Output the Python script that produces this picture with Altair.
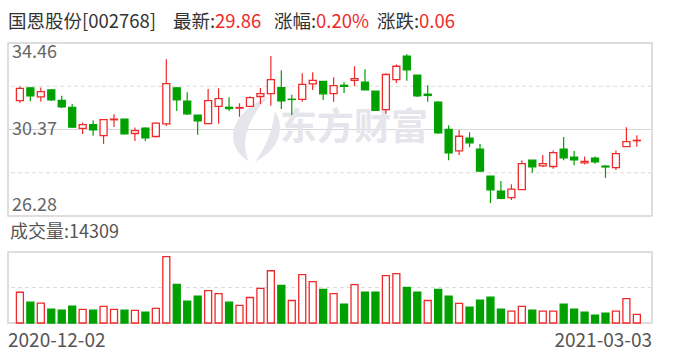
import altair as alt
import pandas as pd

# ---------------- data ----------------
dates = [
    "2020-12-02", "2020-12-03", "2020-12-04", "2020-12-07", "2020-12-08", "2020-12-09",
    "2020-12-10", "2020-12-11", "2020-12-14", "2020-12-15", "2020-12-16", "2020-12-17",
    "2020-12-18", "2020-12-21", "2020-12-22", "2020-12-23", "2020-12-24", "2020-12-25",
    "2020-12-28", "2020-12-29", "2020-12-30", "2020-12-31",
    "2021-01-04", "2021-01-05", "2021-01-06", "2021-01-07", "2021-01-08",
    "2021-01-11", "2021-01-12", "2021-01-13", "2021-01-14", "2021-01-15",
    "2021-01-18", "2021-01-19", "2021-01-20", "2021-01-21", "2021-01-22",
    "2021-01-25", "2021-01-26", "2021-01-27", "2021-01-28", "2021-01-29",
    "2021-02-01", "2021-02-02", "2021-02-03", "2021-02-04", "2021-02-05",
    "2021-02-08", "2021-02-09", "2021-02-10", "2021-02-18", "2021-02-19",
    "2021-02-22", "2021-02-23", "2021-02-24", "2021-02-25", "2021-02-26",
    "2021-03-01", "2021-03-02", "2021-03-03",
]
opens = [31.74, 32.34, 31.91, 32.24, 31.75, 31.42, 30.42, 30.60, 30.08, 30.83,
         30.86, 30.18, 30.43, 30.04, 30.64, 32.34, 31.71, 31.05, 30.65, 31.46,
         31.42, 31.38, 31.46, 31.93, 32.07, 32.35, 31.80, 31.79, 32.53, 32.65,
         32.07, 32.46, 32.69, 32.61, 32.18, 31.31, 32.73, 33.84, 32.94, 32.04,
         31.66, 30.38, 29.36, 29.96, 29.44, 28.16, 27.45, 27.15, 27.53, 28.92,
         28.65, 28.62, 29.44, 29.06, 28.79, 29.01, 28.64, 28.57, 29.56, 29.84]
highs = [32.40, 32.36, 32.35, 32.28, 31.96, 31.57, 30.70, 30.79, 30.84, 31.09,
         30.86, 30.46, 30.46, 30.70, 33.69, 32.37, 32.13, 31.05, 32.28, 32.32,
         31.90, 31.61, 31.94, 32.34, 33.84, 33.17, 32.01, 33.03, 33.08, 32.65,
         32.84, 32.61, 33.36, 33.22, 32.18, 33.03, 33.44, 33.93, 32.94, 32.46,
         31.71, 30.57, 30.35, 30.24, 29.68, 28.16, 27.93, 27.78, 28.90, 28.92,
         29.16, 29.38, 30.01, 29.35, 29.09, 29.09, 28.68, 29.38, 30.48, 30.10]
lows = [31.63, 31.71, 31.68, 31.72, 31.39, 30.45, 30.16, 30.07, 29.69, 30.49,
        30.16, 29.83, 29.83, 29.99, 30.54, 31.25, 31.05, 30.12, 30.65, 30.64,
        31.25, 30.97, 31.46, 31.57, 31.49, 31.34, 31.05, 31.68, 32.24, 31.77,
        31.68, 32.10, 32.43, 32.24, 31.25, 31.11, 32.57, 32.67, 31.91, 31.68,
        30.16, 28.92, 29.16, 29.53, 28.37, 26.89, 27.07, 27.04, 27.53, 28.32,
        28.60, 28.51, 28.92, 28.68, 28.72, 28.75, 28.08, 28.46, 29.56, 29.56]
closes = [32.31, 31.96, 32.16, 31.77, 31.44, 30.48, 30.60, 30.35, 30.84, 30.86,
          30.16, 30.32, 29.97, 30.67, 32.54, 31.77, 31.11, 30.78, 31.74, 31.83,
          31.36, 31.41, 31.88, 32.07, 32.73, 31.72, 31.79, 32.50, 32.69, 32.05,
          32.44, 32.41, 32.78, 32.24, 31.28, 32.97, 33.36, 33.19, 31.96, 31.98,
          30.21, 29.27, 30.05, 29.74, 28.40, 27.52, 27.12, 27.55, 28.76, 28.60,
          28.76, 29.28, 29.03, 28.94, 28.86, 28.84, 28.60, 29.23, 29.80, 29.86]
vols = [51000, 34500, 32900, 23000, 21400, 28000, 22500, 21400, 27500, 22500,
        21400, 20900, 18100, 24200, 110200, 64200, 36200, 44400, 53800, 48900,
        34500, 29100, 42300, 57600, 86700, 62500, 37300, 80100, 68600, 55900,
        48900, 31300, 63700, 51000, 51000, 78500, 81800, 59200, 51000, 37300,
        55900, 44400, 32400, 26300, 37800, 42800, 23000, 19700, 27500, 21400,
        19700, 19700, 31300, 23000, 18100, 13200, 16500, 19700, 40600, 14309]
price_ticks = [26.28, 30.37, 34.46]
vol_max = 117800
stock_name = "国恩股份[002768]"

# ---------------- styles ----------------
RED = "#ee2a2a"
GREEN = "#00a000"
FONT = "Noto Sans CJK SC"
W, H = 644, 280
PRICE_RANGE = [173, 0]
VOL_RANGE = [280, 209]
WM = "#e5e5eb"
LEAF = ("M 0.35 -1 C -0.95 -0.45 -1.0 0.55 -0.25 1 C -0.55 0.35 -0.25 -0.35 0.35 -1 Z "
        "M 0.55 -0.55 C 0.95 0.05 0.55 0.75 -0.05 1 C 0.3 0.5 0.5 0.0 0.55 -0.55 Z")

df = pd.DataFrame({"i": list(range(len(dates))), "date": dates, "open": opens,
                   "high": highs, "low": lows, "close": closes, "vol": vols})
df["dir"] = ["up" if c >= o else "down" for o, c in zip(opens, closes)]
prev = [opens[0]] + closes[:-1]
df["vdir"] = ["up" if c >= p else "down" for p, c in zip(prev, closes)]

xs = alt.Scale(domain=[-0.66, len(dates) - 0.03], nice=False, zero=False)
ps = alt.Scale(domain=[price_ticks[0], price_ticks[-1]], range=PRICE_RANGE, nice=False, zero=False)
vs = alt.Scale(domain=[0, vol_max], range=VOL_RANGE, nice=False, zero=True)
X = alt.X("i:Q", scale=xs, axis=None)
updown = ["up", "down"]


def stroke_enc(field):
    return alt.Stroke(f"{field}:N", scale=alt.Scale(domain=updown, range=[RED, GREEN]), legend=None)


def fill_enc(field):
    return alt.Fill(f"{field}:N", scale=alt.Scale(domain=updown, range=["#ffffff", GREEN]), legend=None)


one = pd.DataFrame({"k": [0]})


def txt(s, x, y, color, size, align="left", baseline="middle", weight="normal"):
    return alt.Chart(one).mark_text(text=s, align=align, baseline=baseline, font=FONT,
                                    fontSize=size, color=color, fontWeight=weight).encode(
        x=alt.value(x), y=alt.value(y))


# ---------------- price panel ----------------
mids = pd.DataFrame({"p": [(price_ticks[0] + price_ticks[1]) / 2, (price_ticks[1] + price_ticks[2]) / 2]})
dash_grid = alt.Chart(mids).mark_rule(color="#dcdcdc", strokeDash=[4, 3], strokeWidth=1).encode(
    y=alt.Y("p:Q", scale=ps, axis=None))
mid_line = alt.Chart(pd.DataFrame({"p": [price_ticks[1]]})).mark_rule(color="#d6d6d6", strokeWidth=1.2).encode(
    y=alt.Y("p:Q", scale=ps, axis=None))
price_box = alt.Chart(pd.DataFrame({"a": [price_ticks[0]], "b": [price_ticks[-1]]})).mark_rect(
    fill="transparent", stroke="#d4d4d4", strokeWidth=1.5).encode(
    x=alt.value(0), x2=alt.value(W), y=alt.Y("a:Q", scale=ps, axis=None), y2="b:Q")

watermark = txt("东方财富", 346, 86, WM, 37, align="center", weight="bold")
logo = alt.Chart(one).mark_point(shape=LEAF, filled=True, fill=WM, stroke=None, opacity=1,
                                 size=4200).encode(x=alt.value(249), y=alt.value(86))

wicks = alt.Chart(df).mark_rule(strokeWidth=1.2).encode(
    x=X, y=alt.Y("low:Q", scale=ps, axis=None), y2="high:Q", stroke=stroke_enc("dir"))
bodies = alt.Chart(df).mark_bar(size=7, strokeWidth=1.3).encode(
    x=X, y=alt.Y("open:Q", scale=ps, axis=None), y2="close:Q",
    fill=fill_enc("dir"), stroke=stroke_enc("dir"))

lab_df = pd.DataFrame({"p": price_ticks})
lab_common = dict(align="left", font=FONT, fontSize=18, color="#666666")
lab_top = alt.Chart(lab_df).transform_filter(f"datum.p == {price_ticks[2]}").mark_text(
    baseline="top", dy=1, **lab_common).encode(
    x=alt.value(4), y=alt.Y("p:Q", scale=ps, axis=None), text=alt.Text("p:Q", format=".2f"))
lab_mid = alt.Chart(lab_df).transform_filter(f"datum.p == {price_ticks[1]}").mark_text(
    baseline="middle", **lab_common).encode(
    x=alt.value(4), y=alt.Y("p:Q", scale=ps, axis=None), text=alt.Text("p:Q", format=".2f"))
lab_bot = alt.Chart(lab_df).transform_filter(f"datum.p == {price_ticks[0]}").mark_text(
    baseline="bottom", dy=-1, **lab_common).encode(
    x=alt.value(4), y=alt.Y("p:Q", scale=ps, axis=None), text=alt.Text("p:Q", format=".2f"))

price = alt.layer(price_box, dash_grid, mid_line, logo, watermark, wicks, bodies, lab_top, lab_mid, lab_bot)

# ---------------- volume panel ----------------
vol_box = alt.Chart(pd.DataFrame({"a": [0], "b": [vol_max]})).mark_rect(
    fill="transparent", stroke="#d4d4d4", strokeWidth=1.5).encode(
    x=alt.value(0), x2=alt.value(W), y=alt.Y("a:Q", scale=vs, axis=None), y2="b:Q")
vol_grid = alt.Chart(pd.DataFrame({"v": [vol_max / 2]})).mark_rule(
    color="#dcdcdc", strokeDash=[4, 3], strokeWidth=1).encode(y=alt.Y("v:Q", scale=vs, axis=None))
vbars = alt.Chart(df).mark_bar(size=7, strokeWidth=1.3).encode(
    x=X, y=alt.Y("vol:Q", scale=vs, axis=None), fill=fill_enc("vdir"), stroke=stroke_enc("vdir"))

volume = alt.layer(vol_box, vol_grid, vbars)

# ---------------- texts ----------------
last, before = closes[-1], closes[-2]
chg = last - before
pct = chg / before * 100
GRAY_T = "#333333"
TS = 18.5
title = [
    txt(stock_name, 0, -21, GRAY_T, TS),
    txt("最新:", 165, -21, GRAY_T, TS),
    txt(f"{last:.2f}", 207, -21, RED, TS),
    txt("涨幅:", 266, -21, GRAY_T, TS),
    txt(f"{pct:.2f}%", 308, -21, RED, TS),
    txt("涨跌:", 369, -21, GRAY_T, TS),
    txt(f"{chg:.2f}", 411, -21, RED, TS),
]
vol_label = txt(f"成交量:{vols[-1]}", 2, 190, "#555555", 18)
d_first = txt(dates[0], 0, 298, "#555555", 19)
d_last = txt(dates[-1], W, 298, "#555555", 19, align="right")

chart = alt.layer(price, volume, *title, vol_label, d_first, d_last).resolve_scale(
    y="independent").properties(
    width=W, height=H,
    padding={"left": 8, "top": 43, "right": 36, "bottom": 37},
    autosize=alt.AutoSizeParams(type="none"),
    background="white",
).configure_view(stroke=None)

chart.save("out.html", embed_options={"renderer": "svg", "actions": False})
